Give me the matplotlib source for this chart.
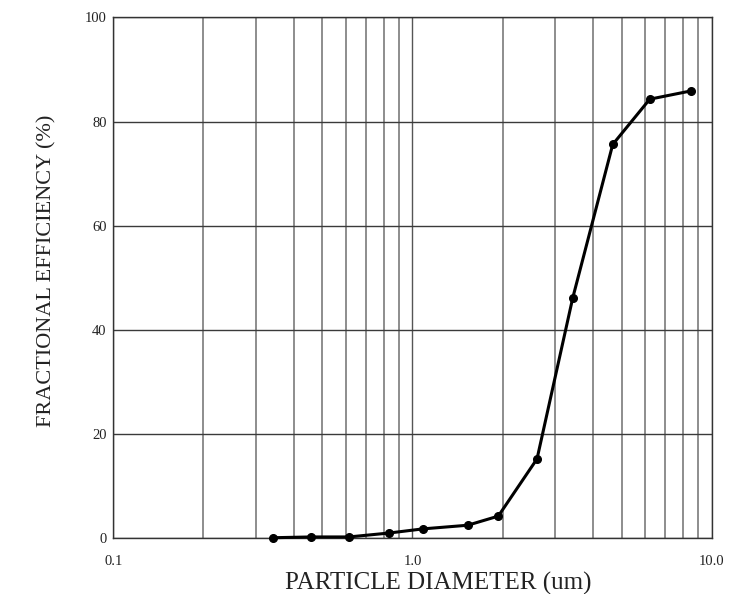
import numpy as np
import matplotlib
matplotlib.use("Agg")
import matplotlib.pyplot as plt
from matplotlib.ticker import FixedLocator, FixedFormatter, LogLocator, NullFormatter

# particle diameter (um) vs fractional efficiency (%)
diameter = [0.341, 0.458, 0.613, 0.834, 1.084, 1.53, 1.936, 2.609, 3.434, 4.673, 6.214, 8.557]
efficiency = [0.05, 0.2, 0.2, 0.95, 1.75, 2.45, 4.2, 15.2, 46.1, 75.6, 84.3, 85.9]

x_ticks = [0.1, 1.0, 10.0]
x_tick_labels = ["0.1", "1.0", "10.0"]
y_ticks = [0, 20, 40, 60, 80, 100]

plt.rcParams['font.family'] = ['Liberation Serif', 'DejaVu Serif']

fig = plt.figure(figsize=(7.33, 5.94), dpi=100)
ax = fig.add_axes([0.1548, 0.0943, 0.8159, 0.8763])

ax.set_xscale('log')
ax.set_xlim(0.1, 10)
ax.set_ylim(0, 100)

ax.xaxis.set_major_locator(FixedLocator(x_ticks))
ax.xaxis.set_major_formatter(FixedFormatter(x_tick_labels))
ax.xaxis.set_minor_locator(LogLocator(base=10, subs=np.arange(2, 10)))
ax.xaxis.set_minor_formatter(NullFormatter())
ax.set_yticks(y_ticks)

ax.grid(True, which='major', axis='y', color='#3a3a3a', lw=1.0)
ax.grid(True, which='major', axis='x', color='#555555', lw=1.0)
ax.grid(True, which='minor', axis='x', color='#7a7a7a', lw=1.2)
ax.set_axisbelow(True)

for s in ax.spines.values():
    s.set_color('#333333')
    s.set_linewidth(1.0)

ax.tick_params(axis='both', which='both', length=0, labelsize=10.5, colors='#222222')
ax.tick_params(axis='x', pad=12)
ax.tick_params(axis='y', pad=5)

ax.plot(diameter, efficiency, color='black', lw=2.2, marker='o', markersize=5.5, clip_on=False, zorder=3)

ax.set_xlabel('PARTICLE DIAMETER (um)', fontsize=18, color='#222222')
ax.xaxis.set_label_coords(0.5426, -0.066)
ax.set_ylabel('FRACTIONAL EFFICIENCY (%)', fontsize=16, color='#222222')
ax.yaxis.set_label_coords(-0.095, 0.514)

fig.savefig('out.png', dpi=100)
